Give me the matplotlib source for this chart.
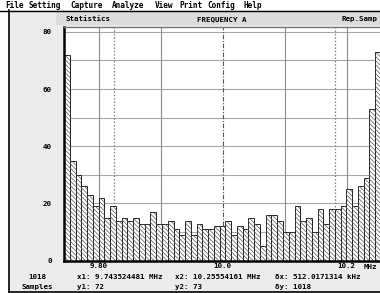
import matplotlib
matplotlib.use('Agg')
import matplotlib.pyplot as plt
from matplotlib.patches import Rectangle
from matplotlib.lines import Line2D
from matplotlib.collections import LineCollection
from matplotlib.path import Path
import numpy as np

# ---------------- data ----------------
counts = [72, 35, 30, 26, 23, 19, 22, 15, 19, 14, 15, 14, 15, 13, 13, 17, 13, 13,
          14, 11, 9, 14, 9, 13, 11, 11, 12, 12, 14, 9, 12, 11, 15, 13, 5, 16, 16,
          14, 10, 10, 19, 14, 15, 10, 18, 13, 18, 18, 19, 25, 19, 26, 29, 53, 73]
x_start = 9.743524481
x_end = 10.25554161
x_ticks = [9.80, 10.0, 10.2]
x_tick_labels = ['9.80', '10.0', '10.2']
y_ticks = [0, 20, 40, 60, 80]
y_tick_labels = ['0', '20', '40', '60', '80']
grid_x = [9.8, 9.9, 10.1, 10.2]
center_x = 10.0
marker_x = [9.8244, 10.1805]
menu_items = ['File', 'Setting', 'Capture', 'Analyze', 'View', 'Print', 'Config', 'Help']
menu_pos = [5, 29, 70, 112, 155, 179, 207, 243]
header_texts = ['Statistics', 'FREQUENCY A', 'Rep.Samp']
info_row1 = ['1018', 'x1: 9.743524481 MHz', 'x2: 10.25554161 MHz', 'δx: 512.0171314 kHz']
info_row2 = ['Samples', 'y1: 72', 'y2: 73', 'δy: 1018']

# ---------------- layout ----------------
W, H = 380, 293
fig = plt.figure(figsize=(W / 100, H / 100), dpi=100, facecolor='white')

def fx(px):
    return px / W

def fy(py):
    return 1 - py / H

# window background
fig.patches.append(Rectangle((fx(9), fy(291.5)), fx(380 - 9), (291.5 - 10) / H,
                             transform=fig.transFigure, facecolor='#ececec',
                             edgecolor='none', zorder=-5))
# header band
fig.patches.append(Rectangle((fx(56), fy(25)), fx(330), 13 / H,
                             transform=fig.transFigure, facecolor='#dcdcdc',
                             edgecolor='none', zorder=-4))
# borders
for (xa, xb, ya, yb, lw) in [(9, 9, 10, 291.5, 1.2), (9, 380, 291.5, 291.5, 1.2),
                             (0, 380, 10.5, 10.5, 1.0)]:
    fig.add_artist(Line2D([fx(xa), fx(xb)], [fy(ya), fy(yb)], transform=fig.transFigure,
                          color='black', lw=lw))

mono = dict(family='DejaVu Sans Mono', fontweight='bold')
fs = 5.4
for name, px in zip(menu_items, menu_pos):
    fig.text(fx(px), fy(5.5), name, fontsize=fs + 0.2, va='center', ha='left', **mono)
fig.text(fx(66), fy(19), header_texts[0], fontsize=fs, va='center', ha='left', **mono)
fig.text(fx(222), fy(19), header_texts[1], fontsize=fs, va='center', ha='center', **mono)
fig.text(fx(341), fy(19), header_texts[2], fontsize=fs, va='center', ha='left', **mono)

# plot area
ax_left, ax_right, ax_top, ax_bottom = 64, 381, 27.3, 260.7
axw, axh = ax_right - ax_left, ax_bottom - ax_top
ax = fig.add_axes([fx(ax_left), fy(ax_bottom), fx(axw), axh / H])
ax.set_facecolor('white')
edges = np.linspace(x_start, x_end, len(counts) + 1)
ax.set_xlim(x_start, x_end)
ymax = 81.6
ax.set_ylim(0, ymax)

for y in range(10, 81, 10):
    ax.axhline(y, color='#a8a8a8', lw=0.8, zorder=1)
for gx in grid_x:
    ax.axvline(gx, color='#8c8c8c', lw=0.8, zorder=1)
for mx in marker_x:
    ax.axvline(mx, color='#808080', lw=0.9, ls=(0, (1.2, 1.5)), zorder=1)
ax.axvline(center_x, color='#555555', lw=0.8, ls=(0, (4, 1.5, 1, 1.5)), zorder=1)

bars = ax.bar(edges[:-1], counts, width=np.diff(edges), align='edge', color='white',
              edgecolor='#222222', linewidth=0.7, zorder=2)

# diagonal hatching, clipped to the bars
clip = Path.make_compound_path(*[p.get_patch_transform().transform_path(p.get_path())
                                 for p in bars])
step = 4.3
segs = []
u = -axh
while u < axw + step:
    segs.append([((u) / axw, 1.0), ((u + axh) / axw, 0.0)])
    u += step
lc = LineCollection(segs, colors='#555555', linewidths=0.5, transform=ax.transAxes,
                    zorder=2.5)
ax.add_collection(lc)
lc.set_clip_path(clip, ax.transData)

for s in ['left', 'bottom']:
    ax.spines[s].set_linewidth(1.8)
    ax.spines[s].set_color('black')
ax.spines['top'].set_linewidth(1.0)
ax.spines['top'].set_color('#777777')
ax.spines['right'].set_visible(False)

ax.set_xticks(x_ticks)
ax.set_xticklabels(x_tick_labels, fontsize=fs, **mono)
ax.set_yticks(y_ticks)
ax.set_yticklabels(y_tick_labels, fontsize=fs, **mono)
ax.tick_params(axis='both', length=0)
ax.tick_params(axis='y', pad=9)
ax.tick_params(axis='x', pad=2)

fig.text(fx(364), fy(267), 'MHz', fontsize=fs, va='center', ha='left', **mono)

fig.text(fx(37), fy(277), info_row1[0], fontsize=fs, va='center', ha='center', **mono)
fig.text(fx(37), fy(286.5), info_row2[0], fontsize=fs, va='center', ha='center', **mono)
for i, px in enumerate([77, 175, 275]):
    fig.text(fx(px), fy(277), info_row1[i + 1], fontsize=fs, va='center', ha='left', **mono)
    fig.text(fx(px), fy(286.5), info_row2[i + 1], fontsize=fs, va='center', ha='left', **mono)

fig.savefig('out.png', dpi=100, facecolor=fig.get_facecolor())
